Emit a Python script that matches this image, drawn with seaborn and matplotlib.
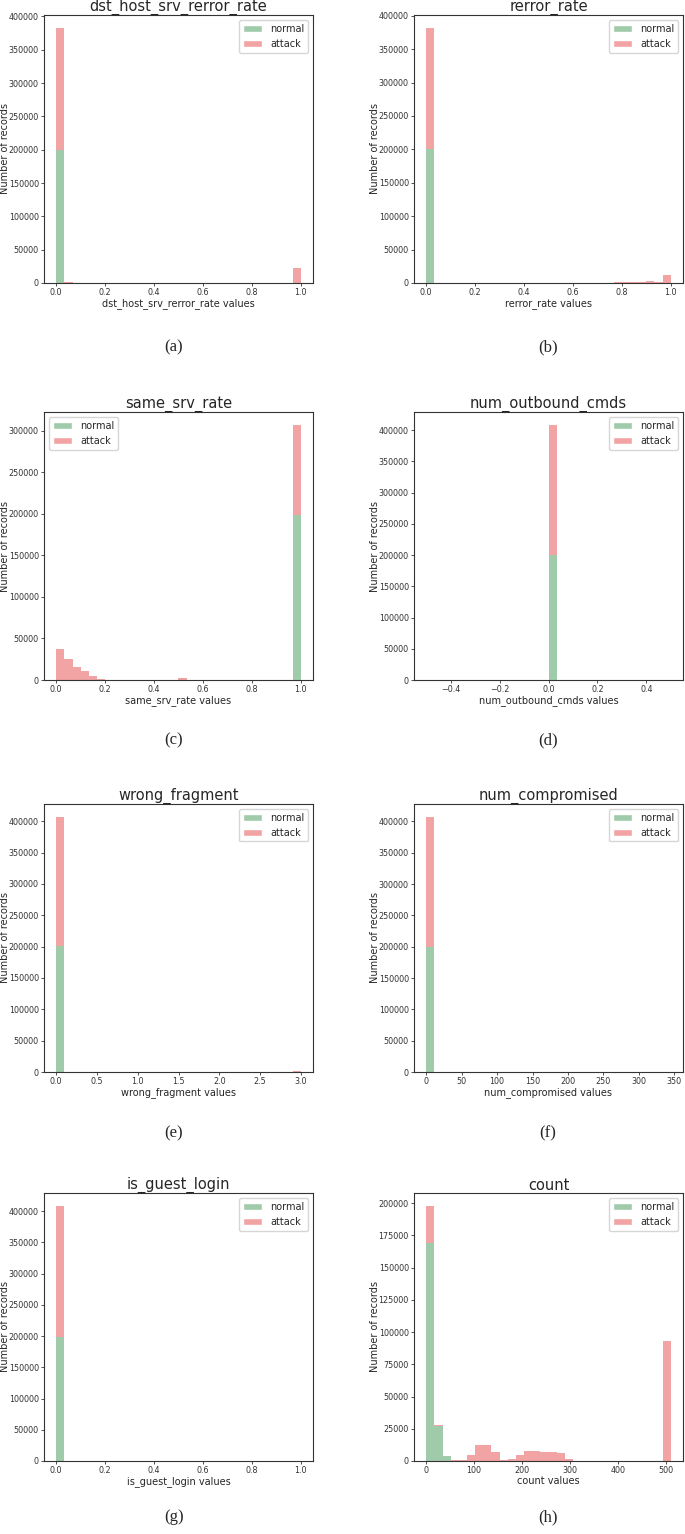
import numpy as np
import pandas as pd
import matplotlib
matplotlib.use("Agg")
import matplotlib.pyplot as plt
from matplotlib.patches import Patch
import seaborn as sns

# ---------------- data ----------------
CLASSES = ["normal", "attack"]
NORMAL_COLOR = "#a0cbaa"
ATTACK_COLOR = "#f2a3a3"
N_BINS = 30

# (a) dst_host_srv_rerror_rate
A_VALUES = [0.0, 0.05, 1.0]
A_NORMAL = [200000, 0, 0]
A_ATTACK = [183000, 2000, 23000]
A_RANGE = (0.0, 1.0)

# (b) rerror_rate
B_VALUES = [0.0, 0.72, 0.75, 0.78, 0.82, 0.85, 0.88, 0.92, 0.95, 1.0]
B_NORMAL = [200000, 0, 0, 0, 0, 0, 0, 0, 0, 0]
B_ATTACK = [182000, 500, 600, 800, 1000, 1800, 1800, 3300, 1500, 12000]
B_RANGE = (0.0, 1.0)

# (c) same_srv_rate
C_VALUES = [0.0, 0.05, 0.08, 0.12, 0.15, 0.18, 0.51, 1.0]
C_NORMAL = [0, 0, 0, 0, 0, 0, 0, 198500]
C_ATTACK = [37700, 25000, 15700, 10400, 4400, 1200, 2400, 108700]
C_RANGE = (0.0, 1.0)

# (d) num_outbound_cmds
D_VALUES = [0.0]
D_NORMAL = [199500]
D_ATTACK = [209000]
D_RANGE = (-0.5, 0.5)

# (e) wrong_fragment
E_VALUES = [0.0, 3.0]
E_NORMAL = [200300, 0]
E_ATTACK = [206800, 1200]
E_RANGE = (0.0, 3.0)

# (f) num_compromised
F_VALUES = [0.0]
F_NORMAL = [200000]
F_ATTACK = [207500]
F_RANGE = (0.0, 345.0)

# (g) is_guest_login
G_VALUES = [0.0, 1.0]
G_NORMAL = [198500, 0]
G_ATTACK = [210000, 700]
G_RANGE = (0.0, 1.0)

# (h) count
H_VALUES = [8, 25, 42, 59, 76, 93, 110, 127, 144, 161, 178, 195, 212, 229,
            246, 263, 280, 297, 505]
H_NORMAL = [169000, 27000, 3600, 0, 0, 0, 0, 0, 0, 0, 0, 0, 0, 0,
            0, 0, 0, 0, 0]
H_ATTACK = [29000, 700, 0, 800, 1000, 4600, 12600, 12600, 7200, 1000, 1800,
            4600, 7700, 7500, 7000, 7000, 6200, 1800, 93300]
H_RANGE = (0.0, 511.0)

PANELS = [
    ("dst_host_srv_rerror_rate", A_VALUES, A_NORMAL, A_ATTACK, A_RANGE, "(a)", "upper right"),
    ("rerror_rate", B_VALUES, B_NORMAL, B_ATTACK, B_RANGE, "(b)", "upper right"),
    ("same_srv_rate", C_VALUES, C_NORMAL, C_ATTACK, C_RANGE, "(c)", "upper left"),
    ("num_outbound_cmds", D_VALUES, D_NORMAL, D_ATTACK, D_RANGE, "(d)", "upper right"),
    ("wrong_fragment", E_VALUES, E_NORMAL, E_ATTACK, E_RANGE, "(e)", "upper right"),
    ("num_compromised", F_VALUES, F_NORMAL, F_ATTACK, F_RANGE, "(f)", "upper right"),
    ("is_guest_login", G_VALUES, G_NORMAL, G_ATTACK, G_RANGE, "(g)", "upper right"),
    ("count", H_VALUES, H_NORMAL, H_ATTACK, H_RANGE, "(h)", "upper right"),
]

# ---------------- style ----------------
sns.set_style("ticks")
plt.rcParams["font.family"] = ["DejaVu Sans"]
plt.rcParams["axes.linewidth"] = 0.8
plt.rcParams["axes.edgecolor"] = "#333333"
plt.rcParams["xtick.major.size"] = 2.5
plt.rcParams["ytick.major.size"] = 2.5
plt.rcParams["xtick.major.width"] = 0.6
plt.rcParams["ytick.major.width"] = 0.6
plt.rcParams["xtick.color"] = "#333333"
plt.rcParams["ytick.color"] = "#333333"

W, H = 685, 1534
fig = plt.figure(figsize=(W / 100, H / 100), dpi=100)

col_left = [44, 414]
row_top = [15, 412, 804, 1193]
ax_w, ax_h = 269, 268
caption_y = [347, 740, 1133, 1517]
caption_x = [174, 548]
ylabel_x = [-0.128, -0.126]

for i, (name, values, normal, attack, rng, cap, loc) in enumerate(PANELS):
    r, c = divmod(i, 2)
    x0 = col_left[c] / W
    y0 = 1 - (row_top[r] + ax_h) / H
    ax = fig.add_axes([x0, y0, ax_w / W, ax_h / H])

    n = len(values)
    df = pd.DataFrame({
        "value": list(values) * 2,
        "weight": list(normal) + list(attack),
        "class": ["normal"] * n + ["attack"] * n,
    })
    sns.histplot(
        data=df, x="value", weights="weight", hue="class",
        hue_order=["attack", "normal"], multiple="stack",
        bins=N_BINS, binrange=rng,
        palette={"normal": NORMAL_COLOR, "attack": ATTACK_COLOR},
        alpha=1, linewidth=0, legend=False, ax=ax,
    )
    ax.set_title(name, fontsize=10.5, pad=2)
    ax.set_xlabel(f"{name} values", fontsize=7, labelpad=0.5)
    ax.set_ylabel("Number of records", fontsize=7)
    ax.yaxis.set_label_coords(ylabel_x[c], 0.5)
    ax.tick_params(labelsize=5.8, pad=1.2)
    handles = [Patch(facecolor=NORMAL_COLOR, label="normal"),
               Patch(facecolor=ATTACK_COLOR, label="attack")]
    ax.legend(handles=handles, loc=loc, fontsize=7, frameon=True,
              fancybox=True, framealpha=0.8, edgecolor="0.8")

    fig.text(caption_x[c] / W, 1 - caption_y[r] / H, cap, ha="center",
             va="center", family="Liberation Serif", fontsize=12)

fig.savefig("out.png", dpi=100, facecolor="white")
